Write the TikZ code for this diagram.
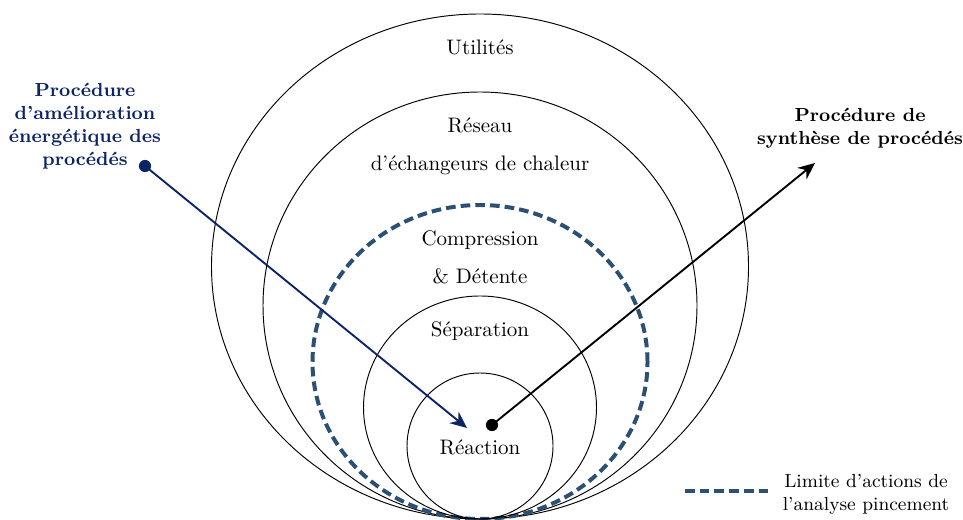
\documentclass[tikz,border=0pt]{standalone}
\usepackage{tikz}
\usetikzlibrary{arrows.meta}
\definecolor{bleuproc}{RGB}{12,36,102}
\definecolor{bleulim}{RGB}{44,80,115}

\begin{document}
\begin{tikzpicture}[x=0.476pt, y=0.476pt,
    couche/.style = {draw=black, line width=0.45pt},
    limite/.style = {draw=bleulim, line width=1.9pt, dash pattern=on 4.6pt off 2.4pt},
    etiq/.style = {align=center, font=\small\bfseries, inner sep=1pt},
    point/.style = {circle, fill, inner sep=0pt, minimum size=5.8pt}]
  \useasboundingbox (0,0) rectangle (963,519);
  % couches du procede, toutes tangentes en bas
  \draw[couche] (480,252.5) ellipse [x radius=268.5, y radius=252.5];
  \draw[couche] (480,213.5) ellipse [x radius=217, y radius=213.5];
  \draw[limite] (480,157) ellipse [x radius=167.5, y radius=157];
  \draw[couche] (480,111.5) ellipse [x radius=116.5, y radius=111.5];
  \draw[couche] (480,73) circle [radius=73];
  \node (util) at (480,472) {Utilit\'es};
  \node[align=center] (reseau) at (480,373) {R\'eseau\\[6pt]d'\'echangeurs de chaleur};
  \node[align=center] (compr) at (480,262) {Compression\\[6pt]\& D\'etente};
  \node (sep) at (480,188) {S\'eparation};
  \node (reac) at (480,72) {R\'eaction};
  % procedures
  \node[etiq, text=bleuproc] (amelio) at (85,392.5) {Proc\'edure\\d'am\'elioration\\\'energ\'etique des\\proc\'ed\'es};
  \node[point, bleuproc] (depA) at (145,353) {};
  \coordinate (finA) at (467,91);
  \draw[bleuproc, line width=0.9pt, -{Stealth[length=8pt, width=7pt]}] (depA.center) -- (finA);
  \node[etiq] (synth) at (860,390.5) {Proc\'edure de\\synth\`ese de proc\'ed\'es};
  \node[point] (depB) at (492,94) {};
  \coordinate (finB) at (815,356);
  \draw[line width=0.9pt, -{Stealth[length=8pt, width=7pt]}] (depB.center) -- (finB);
  % legende
  \coordinate (legA) at (685,28);
  \coordinate (legB) at (768,28);
  \draw[limite] (legA) -- (legB);
  \node[align=center, font=\small] (leg) at (866,25) {Limite d'actions de\\l'analyse pincement};
\end{tikzpicture}
\end{document}
